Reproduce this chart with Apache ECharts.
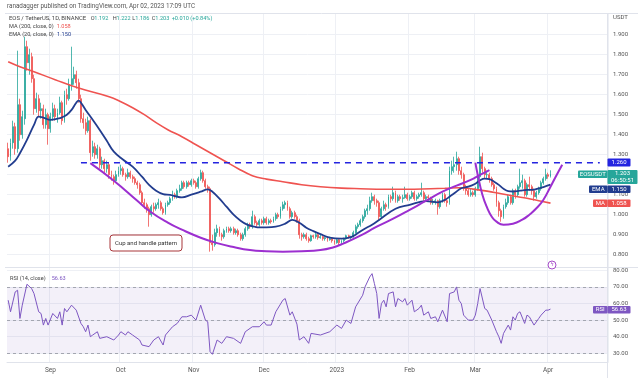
<!DOCTYPE html>
<html><head><meta charset="utf-8">
<script src="https://cdn.jsdelivr.net/npm/echarts@6/dist/echarts.min.js"></script>
<style>html,body{margin:0;padding:0;background:#fff}#c{width:643px;height:381px}</style>
</head><body><div id="c"></div>
<script>
// ---- axis scaffolding ----
const firstDay = [2022, 7, 14];           // 2022-08-14 (category index 0)
const dayCount = 256;                     // visible time span incl. right margin
const monthLabels = {'2022-09-01':'Sep','2022-10-01':'Oct','2022-11-01':'Nov','2022-12-01':'Dec',
                     '2023-01-01':'2023','2023-02-01':'Feb','2023-03-01':'Mar','2023-04-01':'Apr'};
const priceTicks = [0.8,0.9,1.0,1.1,1.2,1.3,1.4,1.5,1.6,1.7,1.8,1.9];
const rsiTicks = [30,40,50,60,70,80];

// ---- daily candles [open, close, low, high], from 2022-08-14 ----
const candles = [
[1.33,1.29,1.26,1.36],[1.29,1.36,1.27,1.38],[1.36,1.44,1.33,1.47],[1.44,1.33,1.30,1.46],[1.33,1.55,1.31,1.82],
[1.55,1.40,1.37,1.58],[1.40,1.49,1.38,1.52],[1.48,1.84,1.45,1.89],[1.84,1.76,1.72,1.87],[1.76,1.80,1.70,1.83],
[1.79,1.68,1.66,1.81],[1.68,1.53,1.50,1.70],[1.53,1.58,1.51,1.61],[1.58,1.52,1.49,1.60],[1.52,1.53,1.48,1.56],
[1.53,1.45,1.43,1.55],[1.45,1.50,1.43,1.53],[1.50,1.43,1.35,1.51],[1.43,1.49,1.41,1.51],[1.49,1.53,1.47,1.56],
[1.53,1.49,1.47,1.55],[1.49,1.51,1.46,1.53],[1.51,1.56,1.50,1.59],[1.56,1.47,1.45,1.57],[1.47,1.60,1.46,1.62],
[1.60,1.58,1.55,1.63],[1.58,1.65,1.57,1.68],[1.65,1.68,1.62,1.84],[1.68,1.70,1.65,1.74],[1.70,1.66,1.63,1.72],
[1.66,1.58,1.56,1.68],[1.58,1.48,1.46,1.60],[1.48,1.46,1.43,1.51],[1.46,1.42,1.40,1.48],[1.42,1.47,1.41,1.49],
[1.47,1.31,1.27,1.48],[1.31,1.34,1.29,1.37],[1.34,1.30,1.28,1.36],[1.30,1.33,1.28,1.35],[1.33,1.25,1.23,1.34],
[1.25,1.27,1.23,1.29],[1.27,1.23,1.21,1.28],[1.23,1.25,1.21,1.27],[1.25,1.20,1.18,1.26],[1.20,1.19,1.17,1.22],
[1.19,1.17,1.15,1.20],[1.17,1.20,1.16,1.22],[1.20,1.22,1.19,1.24],[1.22,1.23,1.20,1.25],[1.23,1.20,1.19,1.24],
[1.20,1.19,1.17,1.21],[1.19,1.21,1.18,1.23],[1.21,1.19,1.18,1.22],[1.19,1.18,1.16,1.20],[1.18,1.16,1.15,1.19],
[1.16,1.15,1.13,1.17],[1.15,1.11,1.10,1.16],[1.11,1.06,1.05,1.12],[1.06,1.05,1.03,1.08],[1.05,1.03,1.01,1.06],
[1.03,1.00,0.94,1.04],[1.00,1.04,0.99,1.05],[1.04,1.03,1.01,1.06],[1.03,1.05,1.02,1.06],[1.05,1.06,1.03,1.08],
[1.06,1.03,1.02,1.07],[1.03,1.01,1.00,1.04],[1.01,1.05,1.00,1.06],[1.05,1.06,1.04,1.07],[1.06,1.08,1.05,1.09],
[1.08,1.10,1.07,1.12],[1.10,1.09,1.08,1.11],[1.09,1.12,1.08,1.13],[1.12,1.13,1.11,1.15],[1.13,1.16,1.12,1.17],
[1.16,1.14,1.13,1.17],[1.14,1.16,1.13,1.17],[1.16,1.15,1.14,1.17],[1.15,1.17,1.14,1.18],[1.17,1.16,1.15,1.18],
[1.16,1.14,1.13,1.17],[1.14,1.18,1.13,1.19],[1.18,1.21,1.17,1.225],[1.21,1.17,1.16,1.22],[1.17,1.14,1.13,1.18],
[1.14,1.13,1.11,1.15],[1.13,0.86,0.815,1.14],[0.86,0.85,0.82,0.90],[0.85,0.91,0.84,0.93],[0.91,0.93,0.89,0.95],
[0.93,0.90,0.89,0.94],[0.90,0.89,0.87,0.91],[0.89,0.92,0.88,0.93],[0.92,0.93,0.91,0.94],[0.93,0.92,0.91,0.94],
[0.92,0.93,0.91,0.94],[0.93,0.91,0.90,0.94],[0.91,0.92,0.90,0.93],[0.92,0.90,0.89,0.93],[0.90,0.88,0.87,0.91],
[0.88,0.90,0.87,0.91],[0.90,0.93,0.89,0.94],[0.93,0.95,0.92,0.96],[0.95,0.94,0.93,0.96],[0.94,0.99,0.93,1.02],
[0.99,0.96,0.95,1.00],[0.96,0.95,0.94,0.97],[0.95,0.97,0.94,0.98],[0.97,0.96,0.95,0.98],[0.96,0.98,0.95,0.99],
[0.98,0.96,0.95,0.99],[0.96,0.97,0.95,0.98],[0.97,0.965,0.955,0.98],[0.965,0.98,0.96,0.99],[0.98,1.00,0.97,1.01],
[1.00,0.99,0.98,1.01],[0.99,1.03,0.98,1.04],[1.03,1.05,1.02,1.065],[1.05,1.06,1.03,1.07],[1.06,1.03,1.02,1.07],
[1.03,0.99,0.98,1.04],[0.99,1.01,0.98,1.02],[1.01,0.99,0.98,1.02],[0.99,0.97,0.96,1.00],[0.97,0.90,0.88,0.98],
[0.90,0.89,0.87,0.91],[0.89,0.90,0.88,0.91],[0.90,0.88,0.87,0.91],[0.88,0.87,0.86,0.89],[0.87,0.895,0.865,0.90],
[0.895,0.89,0.88,0.90],[0.89,0.90,0.88,0.91],[0.90,0.885,0.875,0.905],[0.885,0.89,0.88,0.90],[0.89,0.88,0.87,0.895],
[0.88,0.885,0.87,0.89],[0.885,0.875,0.865,0.89],[0.875,0.88,0.87,0.89],[0.88,0.87,0.86,0.885],[0.87,0.86,0.85,0.875],
[0.86,0.875,0.855,0.88],[0.875,0.86,0.845,0.88],[0.86,0.87,0.85,0.875],[0.87,0.88,0.86,0.885],[0.88,0.895,0.875,0.90],
[0.895,0.885,0.88,0.90],[0.885,0.89,0.875,0.895],[0.89,0.91,0.885,0.92],[0.91,0.94,0.905,0.95],[0.94,0.95,0.93,0.96],
[0.95,0.97,0.94,0.98],[0.97,0.99,0.96,1.00],[0.99,1.02,0.98,1.03],[1.02,1.03,1.00,1.05],[1.03,1.07,1.02,1.09],
[1.07,1.09,1.06,1.11],[1.09,1.07,1.05,1.10],[1.07,1.06,1.04,1.08],[1.06,0.99,0.97,1.07],[0.99,1.03,0.98,1.04],
[1.03,1.05,1.02,1.07],[1.05,1.04,1.02,1.06],[1.04,1.09,1.03,1.10],[1.09,1.08,1.06,1.10],[1.08,1.11,1.07,1.14],
[1.11,1.07,1.06,1.12],[1.07,1.09,1.06,1.10],[1.09,1.08,1.07,1.10],[1.08,1.085,1.06,1.10],[1.085,1.10,1.08,1.14],
[1.10,1.08,1.07,1.11],[1.08,1.09,1.07,1.10],[1.09,1.11,1.08,1.12],[1.11,1.08,1.07,1.12],[1.08,1.09,1.07,1.10],
[1.09,1.10,1.08,1.11],[1.10,1.11,1.09,1.16],[1.11,1.08,1.07,1.12],[1.08,1.09,1.07,1.10],[1.09,1.085,1.07,1.10],
[1.085,1.06,1.05,1.09],[1.06,1.065,1.05,1.08],[1.065,1.07,1.05,1.08],[1.07,1.04,1.00,1.075],[1.04,1.07,1.03,1.08],
[1.07,1.10,1.06,1.11],[1.10,1.07,1.06,1.11],[1.07,1.06,1.04,1.08],[1.06,1.22,1.05,1.24],[1.22,1.24,1.20,1.27],
[1.24,1.25,1.21,1.29],[1.25,1.28,1.22,1.315],[1.28,1.22,1.20,1.29],[1.22,1.20,1.18,1.24],[1.20,1.14,1.12,1.21],
[1.14,1.12,1.10,1.15],[1.12,1.10,1.09,1.13],[1.10,1.11,1.09,1.13],[1.11,1.10,1.09,1.12],[1.10,1.13,1.09,1.14],
[1.13,1.19,1.12,1.21],[1.19,1.29,1.18,1.34],[1.29,1.23,1.21,1.31],[1.23,1.20,1.18,1.24],[1.20,1.20,1.18,1.22],
[1.20,1.18,1.16,1.21],[1.18,1.15,1.14,1.19],[1.15,1.13,1.12,1.16],[1.13,1.06,1.04,1.14],[1.06,1.02,0.99,1.07],
[1.02,0.99,0.965,1.03],[0.99,1.04,0.98,1.05],[1.04,1.06,1.03,1.08],[1.06,1.09,1.05,1.10],[1.09,1.06,1.05,1.10],
[1.06,1.12,1.05,1.13],[1.12,1.10,1.08,1.13],[1.10,1.14,1.09,1.15],[1.14,1.16,1.13,1.23],[1.16,1.17,1.13,1.20],
[1.17,1.10,1.09,1.18],[1.10,1.15,1.09,1.16],[1.15,1.14,1.12,1.19],[1.14,1.12,1.10,1.15],[1.12,1.09,1.07,1.13],
[1.09,1.11,1.08,1.12],[1.11,1.13,1.10,1.14],[1.13,1.16,1.12,1.17],[1.16,1.18,1.15,1.19],[1.18,1.20,1.17,1.23],
[1.20,1.192,1.18,1.21],[1.192,1.203,1.186,1.222]
];

// ---- indicator readings [day index, value] ----
const ma200 = [[0,1.765],[5,1.74],[11,1.715],[20,1.675],[30,1.633],[43,1.59],[48,1.565],[53,1.535],[58,1.50],
[63,1.46],[68,1.425],[74,1.39],[80,1.35],[86,1.31],[92,1.27],[98,1.23],[104,1.195],[110,1.178],[117,1.165],
[125,1.15],[133,1.14],[142,1.133],[150,1.13],[160,1.127],[170,1.127],[180,1.13],[186,1.132],[192,1.135],
[198,1.128],[204,1.118],[210,1.105],[216,1.092],[221,1.082],[226,1.07],[231,1.058]];

const ema20 = [[0,1.24],[3,1.27],[5,1.307],[8,1.374],[11,1.449],[13,1.49],[15,1.485],[18,1.474],[21,1.48],
[23,1.487],[25,1.50],[27,1.524],[29,1.56],[30,1.57],[31,1.56],[33,1.524],[36,1.475],[39,1.424],[42,1.37],
[45,1.315],[49,1.275],[53,1.24],[57,1.19],[60,1.149],[63,1.12],[66,1.103],[69,1.099],[72,1.09],[74,1.087],
[78,1.10],[82,1.115],[85,1.127],[87,1.115],[90,1.08],[93,1.04],[96,1.0],[99,0.97],[102,0.949],[105,0.94],
[107,0.937],[110,0.937],[114,0.94],[118,0.955],[121,0.974],[124,0.96],[127,0.935],[130,0.918],[133,0.903],
[137,0.885],[142,0.88],[146,0.888],[148,0.90],[151,0.924],[155,0.95],[158,0.974],[165,1.03],[171,1.049],
[178,1.068],[183,1.062],[186,1.074],[188,1.09],[190,1.107],[193,1.132],[196,1.14],[199,1.155],[201,1.172],
[203,1.18],[205,1.178],[207,1.165],[209,1.149],[211,1.13],[213,1.118],[215,1.116],[218,1.12],[221,1.124],
[224,1.125],[226,1.132],[228,1.138],[231,1.150]];

const rsi = [[0,62],[1,55],[3,67],[4,68],[5,51],[6,59],[8,71.6],[10,69],[11,66],[13,55],[14,54],[15,47],[16,51],
[17,47],[19,54],[21,51],[22,55],[23,47],[24,57],[25,55],[27,59],[29,56],[31,48],[32,46],[33,43],[34,47],[35,40],
[36,41],[38,43],[39,39],[42,40],[45,38],[47,41],[48,43],[50,41],[51,43],[53,41],[56,38],[57,35],[60,34],[62,38],
[64,40],[66,35],[67,41],[70,46],[72,48],[74,52],[76,52],[78,53],[80,50],[82,59],[84,50],[85,49],[86,31],[87,29.4],
[89,38],[91,36],[93,40],[96,39],[99,36],[101,43],[104,46],[107,46],[109,49],[110,47],[112,47],[114,55],[117,62],
[118,63],[120,53],[121,55],[123,47.6],[124,38],[126,40],[128,36],[129,42],[133,41],[137,43],[140,47],[142,45],
[144,50],[146,48],[148,58],[151,65],[152,70],[154,76],[155,78],[156,72],[157,66],[158,51],[159,60],[160,62],
[161,58],[162,66],[164,67],[165,58],[166,63],[168,61],[169,63],[170,59],[172,62],[173,55],[175,57],[176,59],
[177,53],[179,55],[180,51],[182,52],[183,49],[185,56],[187,49],[188,66],[190,67],[191,70],[192,62],[193,60],
[194,53],[196,50],[198,50],[199,53],[200,60],[201,69],[203,57],[204,56],[206,50],[208,43],[209,40],[210,36],
[211,42],[213,47],[214,44],[215,52],[216,50],[217,54],[218,55],[220,48],[221,53],[222,52],[224,47],[226,51],
[227,53],[229,56],[230,56],[231,56.63]];

// ---- drawn annotations [day index, price] ----
const cupCurve = [[35,1.258],[45,1.17],[55,1.07],[60,1.02],[68,0.96],[74,0.925],[82,0.885],[89,0.858],[96,0.838],
[103,0.823],[110,0.817],[117,0.815],[125,0.817],[133,0.823],[138,0.835],[143,0.857],[150,0.895],[157,0.94],
[164,0.98],[171,1.024],[178,1.07],[185,1.115],[191,1.145],[197,1.174],[201,1.199],[205,1.223]];
const handleCurve = [[199,1.26],[200,1.20],[202,1.10],[204,1.035],[206,0.99],[208,0.965],[211,0.95],[215,0.955],
[219,0.975],[222,1.0],[225,1.032],[228,1.075],[231,1.14],[233,1.185],[236,1.25]];
const resistance = 1.26;
const resistanceSpan = [31, 252];

// ---- build ----
const dates = [];
const t0 = Date.UTC(firstDay[0], firstDay[1], firstDay[2]);
for (let i = 0; i < dayCount; i++) dates.push(new Date(t0 + i * 86400000).toISOString().slice(0, 10));
const isMonth = (i, v) => Object.prototype.hasOwnProperty.call(monthLabels, v);
const resistanceLine = [[resistanceSpan[0], resistance], [resistanceSpan[1], resistance]];

const FONT = 'Roboto, "Liberation Sans", sans-serif';
const gridColor = '#eef0f5';
const txt = '#555';

const chart = echarts.init(document.getElementById('c'), null, {renderer: 'canvas'});

function box(x, y, w, h, fill, text, extra) {
  return [
    {type: 'rect', z: 100, shape: {x: x, y: y, width: w, height: h, r: 1}, style: {fill: fill}},
    {type: 'text', z: 101, style: Object.assign({x: x + w / 2, y: y + h / 2, text: text, fill: '#fff',
      font: '6px ' + FONT, align: 'center', verticalAlign: 'middle'}, extra || {})}
  ];
}
function label(x, y, text, color, size) {
  return {type: 'text', z: 90, style: {x: x, y: y, text: text, fill: color,
          font: (size || 5.6) + 'px ' + FONT, verticalAlign: 'middle'}};
}
const dark = '#444', teal = '#26a69a';

const graphics = [].concat(
  [{type: 'line', z: 50, shape: {x1: 5, y1: 13.5, x2: 638, y2: 13.5}, style: {stroke: '#e0e3eb', lineWidth: 1}},
   {type: 'line', z: 50, shape: {x1: 607.5, y1: 13, x2: 607.5, y2: 378}, style: {stroke: '#e0e3eb', lineWidth: 1}},
   {type: 'line', z: 50, shape: {x1: 5, y1: 267.5, x2: 638, y2: 267.5}, style: {stroke: '#e0e3eb', lineWidth: 1}},
   label(7, 6, 'ranadagger published on TradingView.com, Apr 02, 2023 17:09 UTC', '#555', 6.3),
   label(9, 19, 'EOS / TetherUS, 1D, BINANCE', dark, 5.9),
   label(90.7, 19, 'O', dark), label(94.3, 19, '1.192', teal),
   label(112.7, 19, 'H', dark), label(116.6, 19, '1.222', teal),
   label(132.3, 19, 'L', dark), label(135.3, 19, '1.186', teal),
   label(151.7, 19, 'C', dark), label(155.3, 19, '1.203', teal),
   label(171.7, 19, '+0.010 (+0.84%)', teal),
   label(9, 26.8, 'MA (200, close, 0)', dark), label(56.7, 26.8, '1.058', '#ef5350'),
   label(9, 34.4, 'EMA (20, close, 0)', dark), label(57, 34.4, '1.150', '#223d8f'),
   label(10, 278.3, 'RSI (14, close)', dark), label(51.7, 278.3, '56.63', '#7e57c2'),
   {type: 'text', z: 60, style: {x: 613, y: 17, text: 'USDT', fill: txt, font: '6px ' + FONT, verticalAlign: 'middle'}},
   {type: 'rect', z: 60, shape: {x: 110, y: 235, width: 72, height: 16, r: 3}, style: {fill: '#fff', stroke: '#a8363a', lineWidth: 1}},
   {type: 'text', z: 61, style: {x: 146, y: 243.5, text: 'Cup and handle pattern', fill: '#333', font: '6px ' + FONT, align: 'center', verticalAlign: 'middle'}},
   {type: 'circle', z: 60, shape: {cx: 552, cy: 265, r: 4}, style: {fill: '#fff', stroke: '#a64dc9', lineWidth: 1}},
   {type: 'text', z: 61, style: {x: 552, y: 265, text: 'ϟ', fill: '#a64dc9', font: '5px ' + FONT, align: 'center', verticalAlign: 'middle'}}
  ],
  box(607.5, 158.5, 23, 8, '#2424e0', '1.260'),
  box(578, 170.5, 29.5, 7.5, teal, 'EOSUSDT'),
  box(607.5, 170, 30, 14, teal, '1.203\n06:50:51', {lineHeight: 6.5}),
  box(589, 185.5, 18.5, 7.5, '#223d8f', 'EMA'),
  box(607.5, 185.5, 23, 7.5, '#223d8f', '1.150'),
  box(593, 199.5, 14.5, 7.5, '#ef5350', 'MA'),
  box(607.5, 199.5, 23, 7.5, '#ef5350', '1.058'),
  box(593, 306, 14.5, 7.5, '#7e57c2', 'RSI'),
  box(607.5, 306, 23, 7.5, '#7e57c2', '56.63')
);

const option = {
  animation: false,
  backgroundColor: '#fff',
  textStyle: {fontFamily: FONT},
  grid: [
    {left: 7, right: 35, top: 13, height: 254},
    {left: 7, right: 35, top: 267, height: 95}
  ],
  xAxis: [
    {type: 'category', gridIndex: 0, data: dates, boundaryGap: true,
     axisLine: {show: false}, axisTick: {show: false}, axisLabel: {show: false},
     splitLine: {show: true, interval: isMonth, lineStyle: {color: gridColor, width: 1}}},
    {type: 'category', gridIndex: 1, data: dates, boundaryGap: true,
     axisLine: {show: true, lineStyle: {color: '#e0e3eb'}}, axisTick: {show: false},
     axisLabel: {show: true, interval: isMonth, formatter: v => monthLabels[v] || '', color: txt,
                 fontSize: 6.5, fontFamily: FONT, margin: 5},
     splitLine: {show: true, interval: isMonth, lineStyle: {color: gridColor, width: 1}}}
  ],
  yAxis: [
    {type: 'value', gridIndex: 0, position: 'right', min: 0.7385, max: 2.0085, scale: true,
     axisLine: {show: false}, axisTick: {show: false, customValues: priceTicks},
     axisLabel: {customValues: priceTicks, formatter: v => v.toFixed(3), color: txt, fontSize: 6, fontFamily: FONT, margin: 5},
     splitLine: {show: true, lineStyle: {color: gridColor, width: 1}}},
    {type: 'value', gridIndex: 1, position: 'right', min: 24.76, max: 82.0,
     axisLine: {show: false}, axisTick: {show: false, customValues: rsiTicks},
     axisLabel: {customValues: rsiTicks, formatter: v => v.toFixed(2), color: txt, fontSize: 6, fontFamily: FONT, margin: 5},
     splitLine: {show: true, lineStyle: {color: gridColor, width: 1}}}
  ],
  series: [
    {type: 'candlestick', xAxisIndex: 0, yAxisIndex: 0, data: candles, barWidth: '60%',
     itemStyle: {color: '#26a69a', color0: '#ef5350', borderColor: '#26a69a', borderColor0: '#ef5350', borderWidth: 0.8}},
    {type: 'line', xAxisIndex: 0, yAxisIndex: 0, data: ma200, smooth: 0.4, symbol: 'none', z: 3,
     lineStyle: {color: '#ef5350', width: 1.6}},
    {type: 'line', xAxisIndex: 0, yAxisIndex: 0, data: ema20, smooth: 0.4, symbol: 'none', z: 4,
     lineStyle: {color: '#223d8f', width: 1.8}},
    {type: 'line', xAxisIndex: 0, yAxisIndex: 0, data: resistanceLine, symbol: 'none', z: 5,
     lineStyle: {color: '#2424e0', width: 1.6, type: [6, 5]}},
    {type: 'line', xAxisIndex: 0, yAxisIndex: 0, data: cupCurve, smooth: 0.5, symbol: 'none', z: 5,
     lineStyle: {color: '#9c2fd0', width: 2}},
    {type: 'line', xAxisIndex: 0, yAxisIndex: 0, data: handleCurve, smooth: 0.5, symbol: 'none', z: 5,
     lineStyle: {color: '#9c2fd0', width: 2}},
    {type: 'line', xAxisIndex: 1, yAxisIndex: 1, data: rsi, symbol: 'none', z: 5,
     lineStyle: {color: '#7e57c2', width: 1},
     markArea: {silent: true, itemStyle: {color: 'rgba(126,87,194,0.09)'}, data: [[{yAxis: 30}, {yAxis: 70}]]},
     markLine: {silent: true, symbol: 'none', label: {show: false},
                lineStyle: {color: '#a3a6b0', width: 1, type: [3, 3]},
                data: [{yAxis: 70}, {yAxis: 50}, {yAxis: 30}]}}
  ],
  graphic: graphics
};
chart.setOption(option);
</script>
</body></html>
